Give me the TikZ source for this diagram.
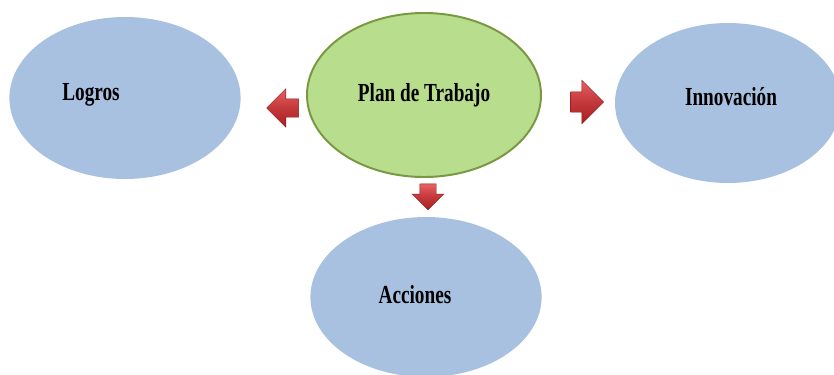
\documentclass[tikz,border=0pt]{standalone}
\usepackage{fontspec}
\setmainfont[FakeStretch=0.74]{Liberation Serif}
\usetikzlibrary{shapes.geometric,shapes.arrows}
\definecolor{azul}{RGB}{168,193,224}
\definecolor{verde}{RGB}{183,221,141}
\definecolor{verdeosc}{RGB}{122,152,66}
\definecolor{rojoclaro}{RGB}{232,96,96}
\definecolor{rojoosc}{RGB}{170,30,34}
\tikzset{
  idea/.style={ellipse,fill=azul,minimum width=5.78cm,minimum height=4.05cm,inner sep=0pt},
  centro/.style={ellipse,fill=verde,draw=verdeosc,line width=1.4pt,minimum width=5.85cm,minimum height=4.1cm,inner sep=0pt},
  texto/.style={font=\fontsize{18.5}{20}\selectfont\bfseries},
  flecha/.style={single arrow,single arrow head indent=0pt,inner xsep=0pt,draw=rojoosc!80!black,line width=0.3pt,
    top color=rojoclaro,bottom color=rojoosc,middle color=rojoosc!60!rojoclaro}
}
\begin{document}
\begin{tikzpicture}
\useasboundingbox (0,0) rectangle (20.85,-9.35);
\clip (0,0) rectangle (20.85,-9.35);
%
\node[idea,label={[texto,xshift=-0.85cm,yshift=0.075cm]center:Logros}] (logros) at (3.125,-2.45) {};
\node[centro,texto] (plan) at (10.6,-2.375) {Plan de Trabajo};
\node[idea,label={[texto,xshift=0.075cm,yshift=0.15cm]center:Innovación},minimum width=5.65cm,minimum height=4.0cm] (innov) at (18.2,-2.575) {};
\node[idea,label={[texto,xshift=-0.275cm,yshift=0.07cm]center:Acciones},minimum height=4.0cm] (acciones) at (10.65,-7.425) {};
%
\node[flecha,rotate=180,minimum height=0.8cm,inner ysep=0.225cm,single arrow head extend=0.25cm] (fIzq) at (7.18,-2.7) {};
\node[flecha,minimum height=0.825cm,inner ysep=0.25cm,single arrow head extend=0.29cm] (fDer) at (14.55,-2.55) {};
\node[flecha,rotate=-90,minimum height=0.65cm,inner ysep=0.2cm,single arrow head extend=0.19cm] (fAbajo) at (10.7,-4.82) {};
\end{tikzpicture}
\end{document}
